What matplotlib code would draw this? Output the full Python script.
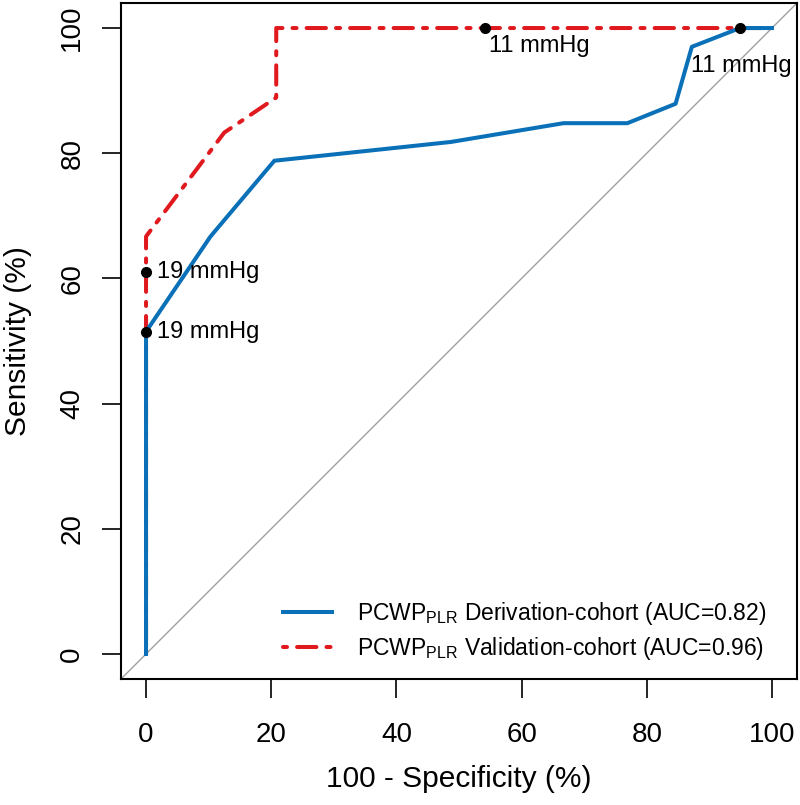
import matplotlib
matplotlib.use("Agg")
import matplotlib.pyplot as plt

plt.rcParams['font.family'] = ['Liberation Sans', 'DejaVu Sans']
plt.rcParams['mathtext.fontset'] = 'custom'
plt.rcParams['mathtext.rm'] = 'Liberation Sans'
plt.rcParams['mathtext.it'] = 'Liberation Sans:italic'

# ROC curves, 100 - specificity (%) vs sensitivity (%)
deriv_fpr = [0, 0, 10.3, 20.5, 48.7, 66.7, 76.9, 84.6, 87.2, 94.9, 100]
deriv_tpr = [0, 51.5, 66.7, 78.8, 81.8, 84.8, 84.8, 87.9, 97.0, 100, 100]
valid_fpr = [0, 0, 12.5, 20.8, 20.8, 100]
valid_tpr = [0, 66.7, 83.3, 88.9, 100, 100]

# threshold points (x, y, label)
thr_deriv = [(0, 51.5, "19 mmHg"), (94.9, 100, "11 mmHg")]
thr_valid = [(0, 61.1, "19 mmHg"), (54.2, 100, "11 mmHg")]

labels = [r"PCWP$_{\mathrm{PLR}}$ Derivation-cohort (AUC=0.82)",
          r"PCWP$_{\mathrm{PLR}}$ Validation-cohort (AUC=0.96)"]
blue = "#0a70b8"
red = "#e0191f"

fig = plt.figure(figsize=(8, 8.05), dpi=100)
ax = fig.add_axes([121/800, 1 - 679/805, 676/800, 676/805])

ax.axline((0, 0), slope=1, color="#a0a0a0", lw=1.0, zorder=1)
ax.plot(valid_fpr, valid_tpr, color=red, lw=2.9, dashes=(1, 2.5, 4.8, 2.5),
        label=labels[1], zorder=2, dash_capstyle="round", dash_joinstyle="round")
ax.plot(deriv_fpr, deriv_tpr, color=blue, lw=2.9, label=labels[0], zorder=3)

for x, y, t in thr_deriv + thr_valid:
    ax.plot(x, y, "o", color="black", ms=7, zorder=5)

fs = 17
ax.annotate(thr_valid[0][2], (thr_valid[0][0], thr_valid[0][1]), xytext=(8, 0),
            textcoords="offset points", va="center", ha="left", fontsize=fs)
ax.annotate(thr_deriv[0][2], (thr_deriv[0][0], thr_deriv[0][1]), xytext=(8, 0),
            textcoords="offset points", va="center", ha="left", fontsize=fs)
ax.annotate(thr_valid[1][2], (thr_valid[1][0], thr_valid[1][1]), xytext=(3, -13),
            textcoords="offset points", va="center", ha="left", fontsize=fs)
ax.annotate(thr_deriv[1][2], (thr_deriv[1][0], thr_deriv[1][1]), xytext=(-35, -27),
            textcoords="offset points", va="center", ha="left", fontsize=fs)

ax.set_xlim(-4, 104)
ax.set_ylim(-4, 104)
ax.set_xticks([0, 20, 40, 60, 80, 100])
ax.set_yticks([0, 20, 40, 60, 80, 100])
ax.tick_params(direction="out", length=13.7, width=1.2, labelsize=20)
ax.tick_params(axis="x", pad=17)
ax.tick_params(axis="y", pad=12, labelrotation=90)
for lab in ax.get_yticklabels():
    lab.set_va("center")
for s in ax.spines.values():
    s.set_linewidth(1.5)

ax.set_xlabel("100 - Specificity (%)", fontsize=21.5, va="center")
ax.set_ylabel("Sensitivity (%)", fontsize=21.5, va="center")
ax.xaxis.set_label_coords(0.5, -0.148)
ax.yaxis.set_label_coords(-0.152, 0.5)

h, l = ax.get_legend_handles_labels()
ax.legend(h[::-1], l[::-1], loc="lower right", frameon=False, fontsize=16.5,
          handlelength=2.1, handletextpad=1.1, labelspacing=0.35,
          bbox_to_anchor=(0.985, -0.006))

fig.savefig("out.png", dpi=100)
